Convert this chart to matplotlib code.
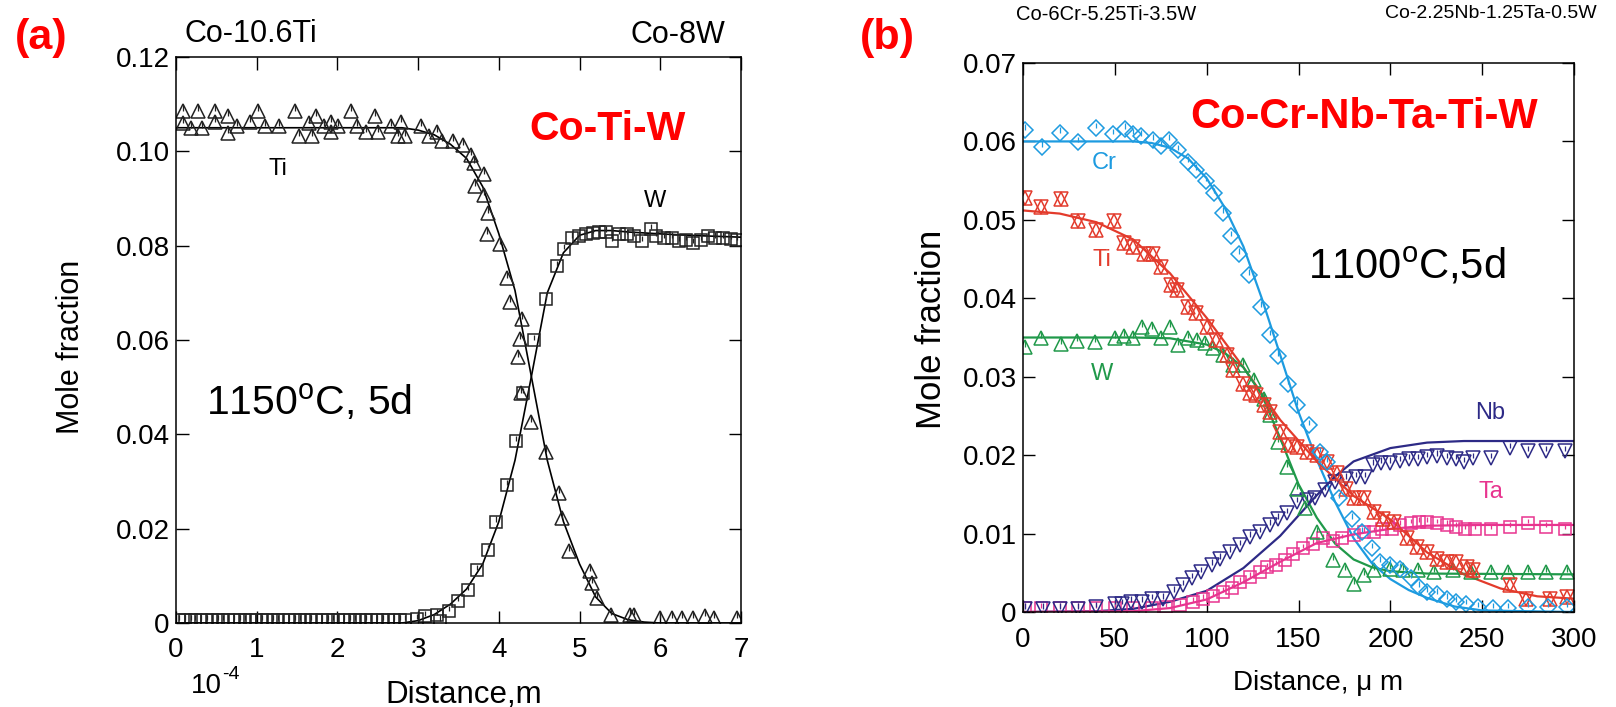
import matplotlib
matplotlib.use("Agg")
import matplotlib.pyplot as plt
from matplotlib.transforms import offset_copy

plt.rcParams['font.family'] = ['Liberation Sans', 'DejaVu Sans']
plt.rcParams['mathtext.fontset'] = 'custom'
plt.rcParams['mathtext.rm'] = 'Liberation Sans'
plt.rcParams['mathtext.it'] = 'Liberation Sans'

# ---------------- Panel (a) data: Co-Ti-W, 1150C 5d (distance in 1e-4 m) ----
ti_a_x = [0.09,0.09,0.18,0.27,0.32,0.48,0.48,0.64,0.64,0.76,
          0.92,1.01,1.10,1.28,1.47,1.53,1.65,1.69,1.74,1.83,
          1.92,1.92,2.01,2.17,2.24,2.36,2.47,2.50,2.66,2.75,
          2.79,2.84,3.04,3.14,3.23,3.30,3.43,3.55,3.66,3.69,
          3.71,3.82,3.82,3.87,3.85,4.01,4.10,4.14,4.29,4.26,
          4.24,4.28,4.40,4.58,4.75,4.78,4.87,5.13,5.16,5.22,
          5.39,5.63,5.68,6.00,6.14,6.27,6.41,6.55,6.66,6.95]
ti_a_y = [0.1085,0.1060,0.1049,0.1085,0.1049,0.1085,0.1063,0.1074,0.1039,0.1053,
          0.1063,0.1085,0.1053,0.1053,0.1085,0.1032,0.1060,0.1032,0.1074,0.1053,
          0.1063,0.1042,0.1053,0.1085,0.1053,0.1042,0.1074,0.1042,0.1053,0.1032,
          0.1063,0.1032,0.1053,0.1032,0.1042,0.1021,0.1021,0.1014,0.0993,0.0975,
          0.0926,0.0951,0.0908,0.0870,0.0824,0.0803,0.0732,0.0680,0.0644,0.0602,
          0.0563,0.0487,0.0427,0.0363,0.0275,0.0222,0.0152,0.0111,0.0085,0.0052,
          0.0018,0.0018,0.0018,0.0010,0.0010,0.0010,0.0010,0.0014,0.0010,0.0010]

w_a_x = [0.04,0.11,0.18,0.24,0.31,0.38,0.45,0.52,0.58,0.65,
         0.72,0.79,0.86,0.92,0.99,1.06,1.13,1.20,1.26,1.33,
         1.40,1.47,1.54,1.60,1.67,1.74,1.81,1.88,1.94,2.01,
         2.08,2.15,2.22,2.28,2.35,2.42,2.49,2.56,2.63,2.70,
         2.77,2.84,2.98,3.09,3.23,3.27,3.38,3.50,3.62,3.73,
         3.86,3.97,4.10,4.21,4.30,4.44,4.58,4.72,4.81,4.90,
         4.99,5.08,5.17,5.24,5.33,5.40,5.49,5.59,5.68,5.77,
         5.88,5.95,6.04,6.14,6.23,6.32,6.41,6.50,6.59,6.68,
         6.78,6.87,6.95]
w_a_y = [0.0007,0.0007,0.0007,0.0007,0.0007,0.0007,0.0007,0.0007,0.0007,0.0007,
         0.0007,0.0007,0.0007,0.0007,0.0007,0.0007,0.0007,0.0007,0.0007,0.0007,
         0.0007,0.0007,0.0007,0.0007,0.0007,0.0007,0.0007,0.0007,0.0007,0.0007,
         0.0007,0.0007,0.0007,0.0007,0.0007,0.0007,0.0007,0.0007,0.0007,0.0007,
         0.0007,0.0007,0.0008,0.0014,0.0018,0.0005,0.0025,0.0047,0.0069,0.0113,
         0.0155,0.0215,0.0293,0.0385,0.0487,0.0599,0.0687,0.0757,0.0792,0.0817,
         0.0820,0.0824,0.0827,0.0830,0.0830,0.0810,0.0824,0.0824,0.0820,0.0810,
         0.0835,0.0820,0.0817,0.0817,0.0810,0.0813,0.0806,0.0813,0.0820,0.0817,
         0.0817,0.0815,0.0813]

ti_a_fit_x = [0, 2.8, 3.0, 3.2, 3.4, 3.6, 3.8, 4.0, 4.2, 4.4, 4.6, 4.8, 5.0, 5.2, 5.4, 5.6, 5.8, 6.0, 7.0]
ti_a_fit_y = [0.105, 0.105, 0.1045, 0.1035, 0.1015, 0.0985, 0.0925, 0.0825, 0.0705, 0.0525,
              0.0345, 0.0215, 0.0125, 0.0055, 0.0020, 0.0007, 0.0002, 0.0, 0.0]
w_a_fit_x = [0, 2.8, 3.0, 3.2, 3.4, 3.6, 3.8, 4.0, 4.2, 4.4, 4.6, 4.8, 5.0, 5.2, 5.4, 5.6, 6.0, 6.5, 7.0]
w_a_fit_y = [0.0, 0.0, 0.0005, 0.0018, 0.0040, 0.0072, 0.0125, 0.0215, 0.0345, 0.0520,
             0.0700, 0.0785, 0.0822, 0.0832, 0.0832, 0.0829, 0.0825, 0.0821, 0.0818]

a_xticks = [0, 1, 2, 3, 4, 5, 6, 7]
a_yticks = [0, 0.02, 0.04, 0.06, 0.08, 0.10, 0.12]
a_yticklabels = ['0', '0.02', '0.04', '0.06', '0.08', '0.10', '0.12']

# ---------------- Panel (b) data: Co-Cr-Nb-Ta-Ti-W, 1100C 5d (distance in um) ----
cr_x = [0.9,10.3,19.9,29.9,39.9,48.9,55.3,59.8,64.3,70.7,
        75.2,79.7,84.2,89.7,94.2,99.6,104.2,108.7,113.2,117.8,
        123.2,129.5,134.5,139,144.5,149,155.5,161.8,165.5,171.8,
        179,184.5,190,194.5,200,205.5,211,215.5,220,225.5,
        231,235.5,241,248,256,264,275,286,296]
cr_y = [0.0615,0.0593,0.0611,0.0599,0.0617,0.0609,0.0616,0.0609,0.0607,0.0602,
        0.0594,0.0602,0.0589,0.0574,0.0564,0.0549,0.0534,0.0509,0.0479,0.0457,
        0.0430,0.0389,0.0353,0.0326,0.0291,0.0264,0.0238,0.0204,0.0191,0.0145,
        0.0119,0.0102,0.0081,0.0064,0.0060,0.0055,0.0043,0.0032,0.0026,0.0023,
        0.0017,0.0013,0.0010,0.0006,0.0005,0.0005,0.0006,0.0006,0.0006]

ti_x = [1,10,20.5,30,40,49.8,55,60,66,70.7,
        75,80.6,84,89.7,94,100,105,110.9,114.5,120,
        123.6,127,131,134.5,140,144.5,149,154.5,160,165.5,
        171,176,180,185.5,191,196,202,209,214.5,220,
        225.5,231,236,241.5,245,265,274,287,296]
ti_y = [0.0528,0.0517,0.0526,0.0498,0.0487,0.0498,0.0470,0.0466,0.0457,0.0457,
        0.0440,0.0417,0.0411,0.0389,0.0381,0.0363,0.0347,0.0328,0.0309,0.0291,
        0.0279,0.0277,0.0264,0.0255,0.0230,0.0213,0.0211,0.0204,0.0200,0.0191,
        0.0177,0.0157,0.0145,0.0145,0.0128,0.0119,0.0115,0.0094,0.0083,0.0077,
        0.0068,0.0064,0.0064,0.0057,0.0053,0.0035,0.0017,0.0017,0.0019]

w_x = [1,10,20.5,29.5,39,50,55,60,64.6,70,
       75,80,84.5,90,94.5,99,103.6,109,114.5,120,
       126,131,134.5,139,143.6,149,153.6,160,169,175.5,
       180,185.5,191,200,207,215,224,234,244,255,
       264,275,285,296]
w_y = [0.0338,0.0350,0.0342,0.0346,0.0344,0.0350,0.0352,0.0350,0.0363,0.0361,
       0.0350,0.0364,0.0340,0.0349,0.0347,0.0343,0.0336,0.0328,0.0315,0.0315,
       0.0296,0.0272,0.0251,0.0217,0.0185,0.0157,0.0132,0.0102,0.0066,0.0053,
       0.0036,0.0047,0.0053,0.0055,0.0053,0.0053,0.0051,0.0053,0.0051,0.0051,
       0.0051,0.0051,0.0051,0.0051]

nb_x = [1,11,20,30,40,50,54,59,65,70,
        76,82,87,92,97,102.7,107,112.7,118,123.6,
        129,134.5,139,143.6,149,154.5,159,164.5,170,176,
        181.5,186,190.5,195,200,205,210,215,220,225.5,
        231,235.5,240,245,255,265,275,285,295]
nb_y = [0.0004,0.0004,0.0004,0.0004,0.0006,0.0010,0.0010,0.0013,0.0013,0.0016,
        0.0017,0.0026,0.0034,0.0043,0.0051,0.0060,0.0068,0.0077,0.0085,0.0096,
        0.0102,0.0111,0.0119,0.0126,0.0140,0.0143,0.0145,0.0155,0.0166,0.0170,
        0.0172,0.0172,0.0188,0.0190,0.0190,0.0192,0.0195,0.0195,0.0197,0.0199,
        0.0196,0.0195,0.0191,0.0196,0.0196,0.0209,0.0205,0.0205,0.0205]

ta_x = [1,10,20,30,40,50,60,70,78,85.5,
        92.7,98,103.6,109,113.6,118,123.6,129,132.7,138,
        142.7,147,152.7,158,163.6,169,173.6,180,185.5,191,
        195.5,201,205.5,211,215.5,220,225.5,231,236,240.5,
        246,255,265,275,285,295]
ta_y = [0.0005,0.0005,0.0005,0.0005,0.0005,0.0005,0.0005,0.0005,0.0006,0.0009,
        0.0013,0.0017,0.0021,0.0026,0.0030,0.0038,0.0045,0.0051,0.0057,0.0060,
        0.0066,0.0074,0.0081,0.0087,0.0094,0.0091,0.0094,0.0098,0.0102,0.0102,
        0.0106,0.0106,0.0111,0.0113,0.0115,0.0115,0.0113,0.0111,0.0109,0.0106,
        0.0106,0.0106,0.0109,0.0113,0.0109,0.0106]

cr_fit_x = [0, 60, 70, 80, 90, 100, 110, 120, 130, 140, 150, 160, 170, 180, 190, 200, 210, 220, 235, 250, 300]
cr_fit_y = [0.0600, 0.0600, 0.0598, 0.0592, 0.0578, 0.0553, 0.0515, 0.0466, 0.0400, 0.0328, 0.0255,
            0.0194, 0.0140, 0.0094, 0.0062, 0.0042, 0.0028, 0.0018, 0.0007, 0.0002, 0.0]
ti_fit_x = [0, 20, 40, 60, 80, 100, 120, 140, 160, 180, 200, 220, 240, 260, 280, 300]
ti_fit_y = [0.0512, 0.0508, 0.0497, 0.0475, 0.0432, 0.0375, 0.0312, 0.0245, 0.0192, 0.0148,
            0.0118, 0.0076, 0.0048, 0.0030, 0.0020, 0.0017]
w_fit_x = [0, 60, 80, 100, 110, 120, 130, 140, 150, 160, 170, 180, 190, 200, 220, 300]
w_fit_y = [0.0350, 0.0350, 0.0349, 0.0341, 0.0330, 0.0312, 0.0277, 0.0222, 0.0163, 0.0120,
           0.0087, 0.0067, 0.0057, 0.0052, 0.0049, 0.0048]
nb_fit_x = [0, 40, 60, 80, 100, 120, 140, 160, 170, 180, 200, 220, 240, 260, 300]
nb_fit_y = [0.0, 0.0001, 0.0004, 0.0013, 0.0027, 0.0056, 0.0097, 0.0149, 0.0173, 0.0192,
            0.0209, 0.0216, 0.0218, 0.0218, 0.0218]
ta_fit_x = [0, 60, 80, 100, 120, 140, 160, 180, 200, 220, 250, 300]
ta_fit_y = [0.0, 0.0001, 0.0005, 0.0016, 0.0038, 0.0064, 0.0088, 0.0099, 0.0106, 0.0110, 0.0111, 0.0111]

b_xticks = [0, 50, 100, 150, 200, 250, 300]
b_yticks = [0, 0.01, 0.02, 0.03, 0.04, 0.05, 0.06, 0.07]
b_yticklabels = ['0', '0.01', '0.02', '0.03', '0.04', '0.05', '0.06', '0.07']

C_CR = '#1d9be0'
C_TI = '#e33b2c'
C_W = '#20994a'
C_NB = '#2d2a86'
C_TA = '#e8348f'
RED = '#ff0000'

W_PX, H_PX = 1616, 707
fig = plt.figure(figsize=(W_PX / 100, H_PX / 100), dpi=100)


def axes_px(left, top, right, bottom):
    return fig.add_axes([left / W_PX, 1 - bottom / H_PX, (right - left) / W_PX, (bottom - top) / H_PX])


def style_axes(ax, xpad, tlen):
    ax.tick_params(direction='in', length=tlen, width=1.0, top=True, right=True,
                   labelsize=20, colors='black')
    ax.tick_params(axis='x', pad=xpad)
    ax.tick_params(axis='y', pad=4.5)
    for s in ax.spines.values():
        s.set_linewidth(1.1)


def points(ax, xs, ys, marker, ms, color, tick):
    # open markers with the short inner bar seen on each measured point
    ax.errorbar(xs, ys, yerr=[[0] * len(ys), [tick] * len(ys)], fmt='none',
                ecolor=color, elinewidth=0.9, capsize=0)
    ax.plot(xs, ys, linestyle='none', marker=marker, ms=ms, mfc='none', mec=color, mew=1.1)


# ---------------- Panel (a) ----------------
ax1 = axes_px(176, 57, 741, 623)
ax1.plot(ti_a_fit_x, ti_a_fit_y, color='black', lw=1.2)
ax1.plot(w_a_fit_x, w_a_fit_y, color='black', lw=1.2)
points(ax1, ti_a_x, ti_a_y, '^', 9.5, '#222222', 0.0013)
points(ax1, w_a_x, w_a_y, 's', 8.5, '#222222', 0.0011)
ax1.set_xlim(0, 7)
ax1.set_ylim(0, 0.12)
ax1.set_xticks(a_xticks)
ax1.set_yticks(a_yticks)
ax1.set_yticklabels(a_yticklabels)
style_axes(ax1, 10, 9)
ax1.set_ylabel('Mole fraction', fontsize=22)
ax1.yaxis.set_label_coords(-0.16, 0.488)
ax1.text(0.51, -0.1413, 'Distance,m', transform=ax1.transAxes, fontsize=22.5,
         ha='center', va='baseline')
t10 = ax1.text(0.027, -0.124, '10', transform=ax1.transAxes, fontsize=20, ha='left', va='baseline')
ax1.text(0.027, -0.124, '-4', fontsize=14, ha='left', va='baseline',
         transform=offset_copy(ax1.transAxes, fig=fig, x=22.5, y=10, units='points'))
ax1.text(0.625, 0.872, 'Co-Ti-W', transform=ax1.transAxes, fontsize=29.5, fontweight='bold',
         color=RED, ha='left', va='center')
ax1.text(0.053, 0.390, r'1150$^{\mathrm{o}}$C, 5d', transform=ax1.transAxes, fontsize=29.5,
         ha='left', va='center')
ax1.text(0.181, 0.803, 'Ti', transform=ax1.transAxes, fontsize=17, ha='center', va='center')
ax1.text(0.848, 0.746, 'W', transform=ax1.transAxes, fontsize=17, ha='center', va='center')

fig.text(15 / W_PX, 1 - 38.5 / H_PX, '(a)', fontsize=31, fontweight='bold', color=RED, ha='left', va='center')
fig.text(185 / W_PX, 1 - 34 / H_PX, 'Co-10.6Ti', fontsize=22, ha='left', va='center')
fig.text(725 / W_PX, 1 - 35 / H_PX, 'Co-8W', fontsize=22, ha='right', va='center')

# ---------------- Panel (b) ----------------
ax2 = axes_px(1023, 63, 1574, 612)
ax2.plot(cr_fit_x, cr_fit_y, color=C_CR, lw=1.6)
ax2.plot(ti_fit_x, ti_fit_y, color=C_TI, lw=1.6)
ax2.plot(w_fit_x, w_fit_y, color=C_W, lw=1.6)
ax2.plot(nb_fit_x, nb_fit_y, color=C_NB, lw=1.6)
ax2.plot(ta_fit_x, ta_fit_y, color=C_TA, lw=1.6)
points(ax2, ta_x, ta_y, 's', 8.5, C_TA, 0.0006)
points(ax2, nb_x, nb_y, 'v', 9.5, C_NB, 0.0007)
points(ax2, w_x, w_y, '^', 9.5, C_W, 0.0007)
ax2.plot(ti_x, ti_y, linestyle='none', marker='^', ms=9.5, mfc='none', mec=C_TI, mew=1.1)
ax2.plot(ti_x, ti_y, linestyle='none', marker='v', ms=9.5, mfc='none', mec=C_TI, mew=1.1)
points(ax2, cr_x, cr_y, 'D', 8.5, C_CR, 0.0007)
ax2.set_xlim(0, 300)
ax2.set_ylim(0, 0.07)
ax2.set_xticks(b_xticks)
ax2.set_yticks(b_yticks)
ax2.set_yticklabels(b_yticklabels)
style_axes(ax2, 11, 8.5)
ax2.set_ylabel('Mole fraction', fontsize=25)
ax2.yaxis.set_label_coords(-0.137, 0.514)
ax2.text(0.535, -0.142, 'Distance, \u03bc m', transform=ax2.transAxes, fontsize=20,
         ha='center', va='baseline')
ax2.text(0.303, 0.881, 'Co-Cr-Nb-Ta-Ti-W', transform=ax2.transAxes, fontsize=30, fontweight='bold',
         color=RED, ha='left', va='baseline')
ax2.text(0.517, 0.628, r'1100$^{\mathrm{o}}$C,5d', transform=ax2.transAxes, fontsize=30,
         ha='left', va='center')
ax2.text(0.147, 0.817, 'Cr', transform=ax2.transAxes, fontsize=17, color=C_CR, ha='center', va='center')
ax2.text(0.143, 0.641, 'Ti', transform=ax2.transAxes, fontsize=17, color=C_TI, ha='center', va='center')
ax2.text(0.144, 0.433, 'W', transform=ax2.transAxes, fontsize=17, color=C_W, ha='center', va='center')
ax2.text(0.847, 0.362, 'Nb', transform=ax2.transAxes, fontsize=17, color=C_NB, ha='center', va='center')
ax2.text(0.849, 0.218, 'Ta', transform=ax2.transAxes, fontsize=17, color=C_TA, ha='center', va='center')

fig.text(860 / W_PX, 1 - 38.5 / H_PX, '(b)', fontsize=31, fontweight='bold', color=RED, ha='left', va='center')
fig.text(1016 / W_PX, 1 - 14 / H_PX, 'Co-6Cr-5.25Ti-3.5W', fontsize=14.5, ha='left', va='center')
fig.text(1597 / W_PX, 1 - 14 / H_PX, 'Co-2.25Nb-1.25Ta-0.5W', fontsize=14, ha='right', va='center')

fig.savefig('out.png', dpi=100)
